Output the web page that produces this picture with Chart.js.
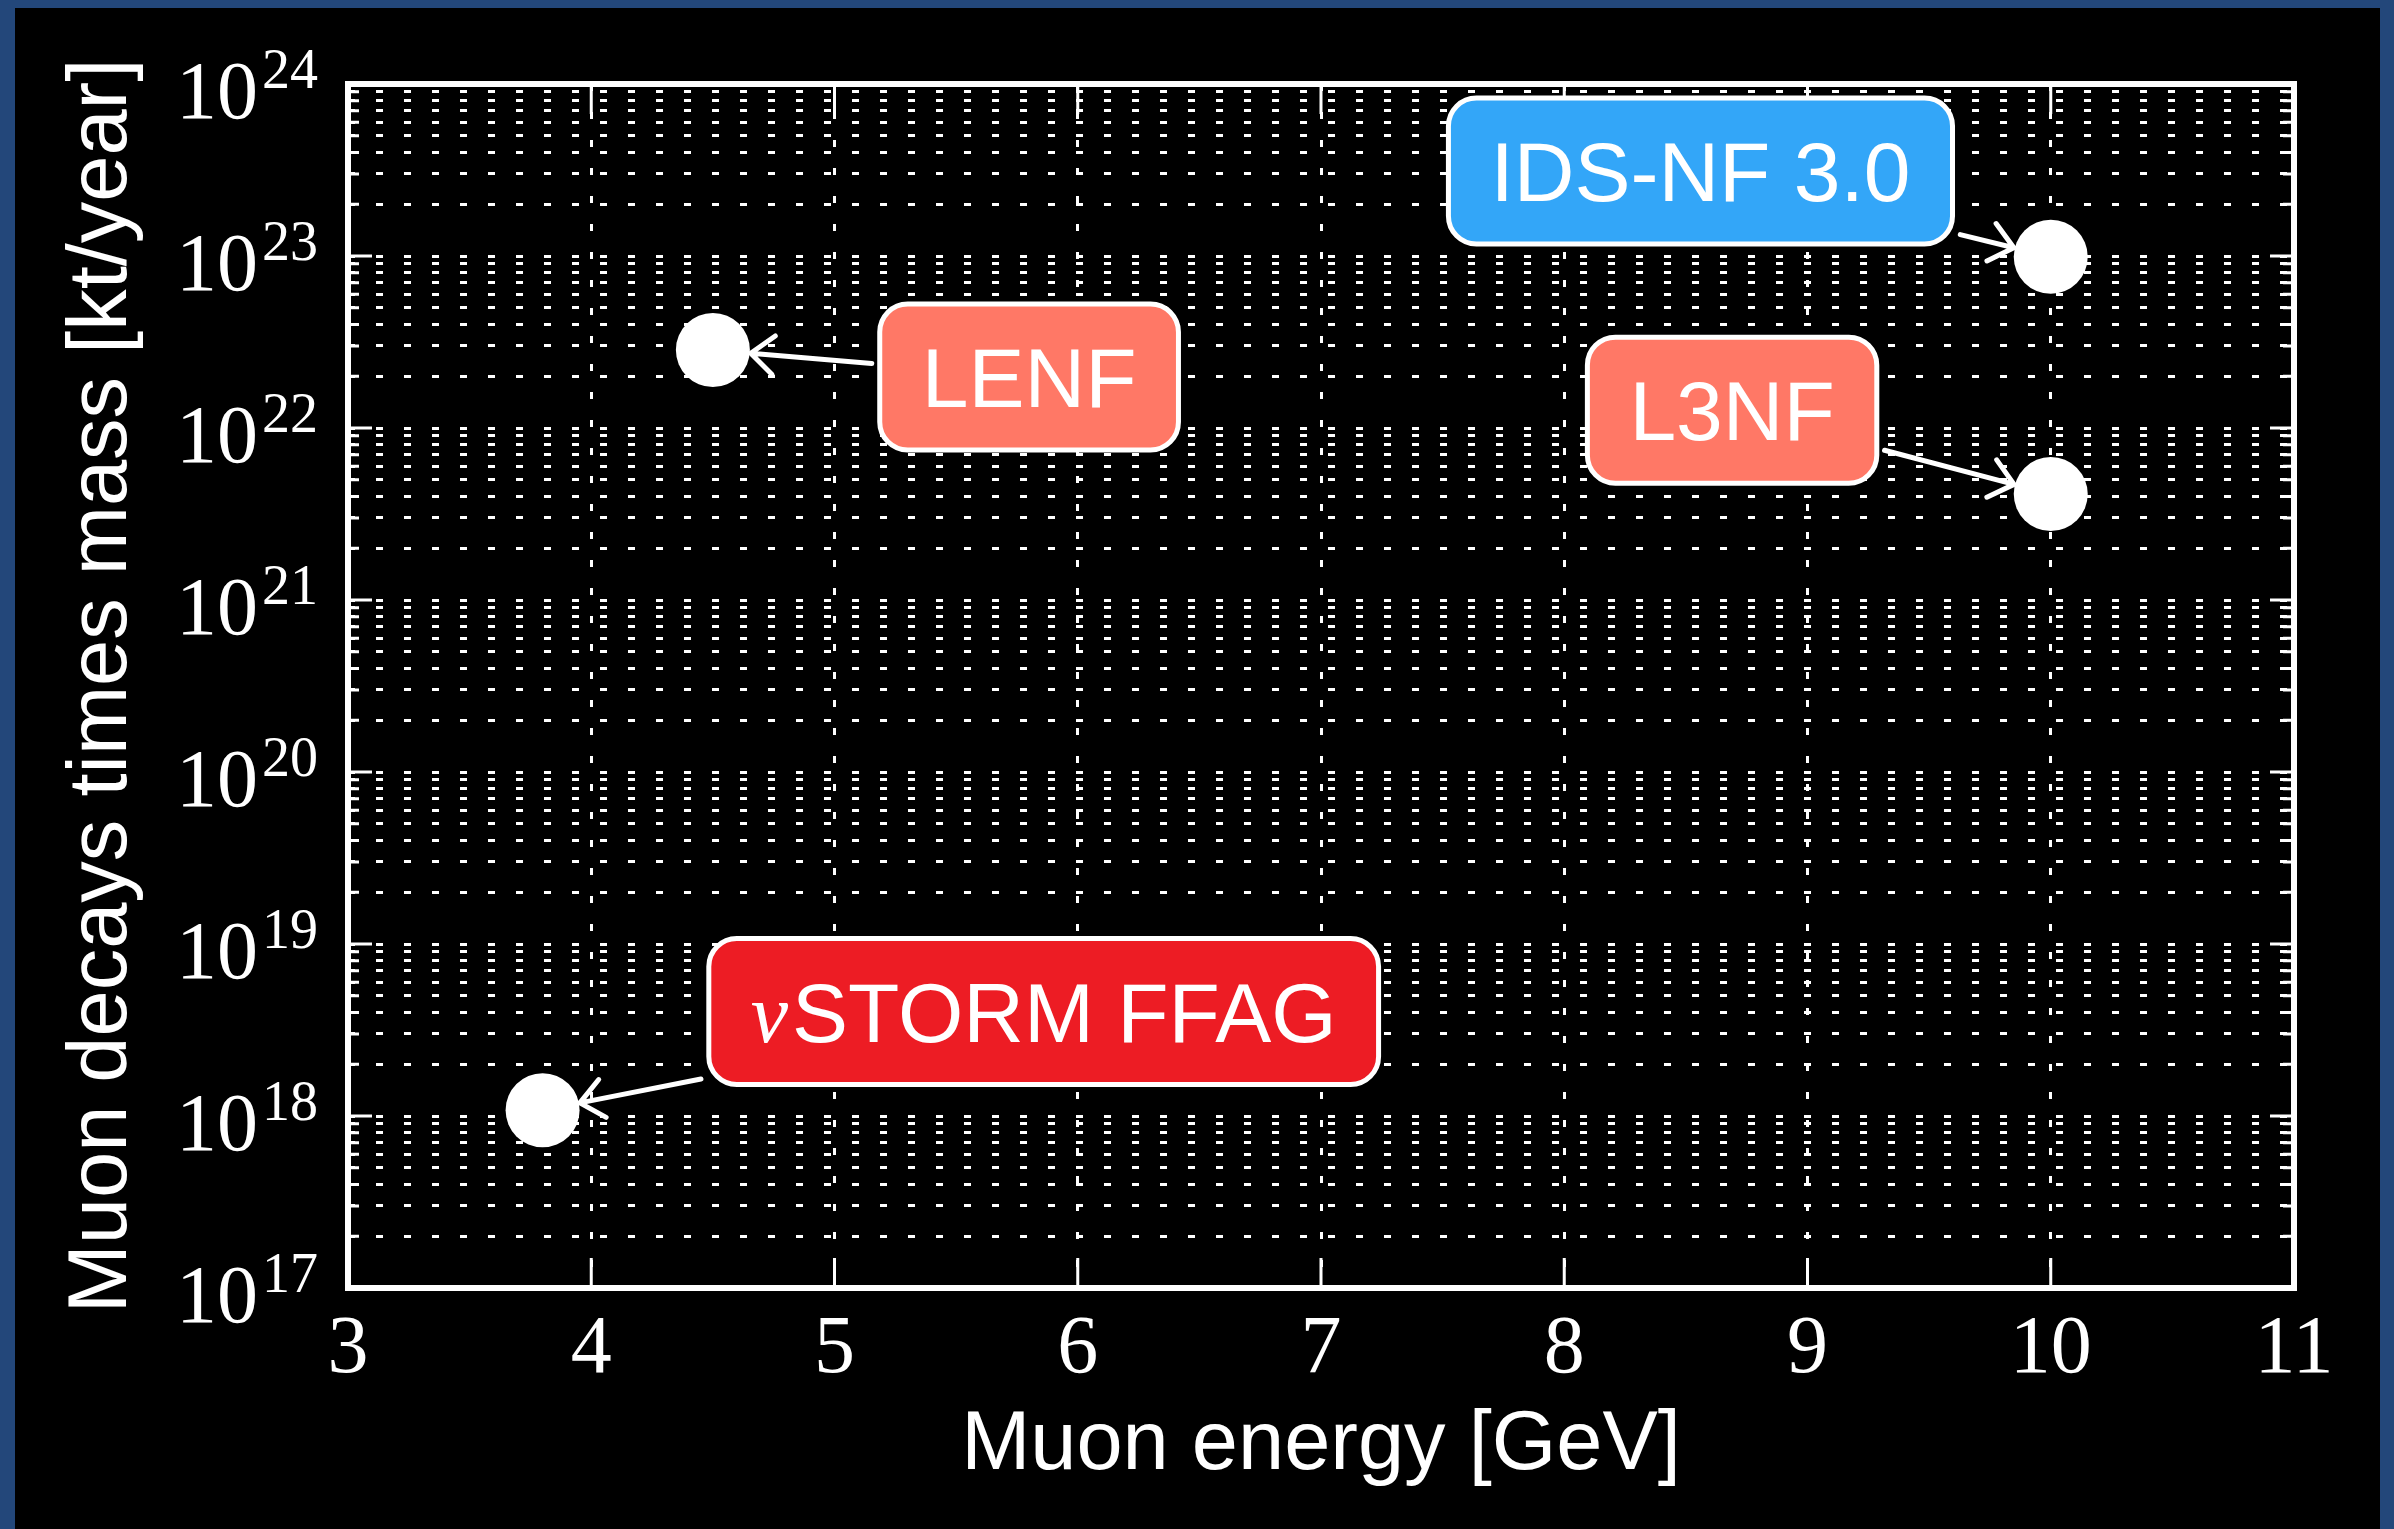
<!DOCTYPE html>
<html>
<head>
<meta charset="utf-8">
<title>Muon decays times mass vs muon energy</title>
<script src="https://cdn.jsdelivr.net/npm/chart.js@4.4.1/dist/chart.umd.min.js"></script>
<style>
  html, body { margin: 0; padding: 0; background: #23477a; overflow: hidden; }
  #frame { position: absolute; left: 15px; top: 8px; width: 2365px; height: 1521px; background: #000; }
</style>
</head>
<body>
<div id="frame"><canvas id="myChart"></canvas></div>
<script>
// data
const facilities = ["\u03bdSTORM FFAG", "LENF", "L3NF", "IDS-NF 3.0"];
const muonEnergy = [3.8, 4.5, 10, 10];                      // GeV
const decaysTimesMass = [1.08e18, 2.84e22, 4.13e21, 0.99e23]; // kt/year

// axis ticks
const xTicks = [3, 4, 5, 6, 7, 8, 9, 10, 11];
const yExponents = [17, 18, 19, 20, 21, 22, 23, 24];

// where each label box sits (data coords) and its colour
const labelEnergy = [5.86, 5.80, 8.69, 8.56];
const labelDecays = [4.05e18, 1.98e22, 1.27e22, 3.12e23];
const boxColors = ["#ed1c24", "#ff7866", "#ff7866", "#33a6f8"];

const SANS = "'Liberation Sans', Arial, sans-serif";
const SERIF = "'Liberation Serif', 'Times New Roman', serif";

Chart.defaults.font.family = SANS;
Chart.defaults.color = "#fff";

var points = [];
for (var i = 0; i < facilities.length; i++) {
  points.push({ x: muonEnergy[i], y: decaysTimesMass[i] });
}

function drawArrow(ctx, x1, y1, x2, y2) {
  var ang = Math.atan2(y2 - y1, x2 - x1);
  var head = 30, spread = 40 * Math.PI / 180;
  ctx.beginPath();
  ctx.moveTo(x1, y1);
  ctx.lineTo(x2, y2);
  ctx.moveTo(x2 - head * Math.cos(ang - spread), y2 - head * Math.sin(ang - spread));
  ctx.lineTo(x2, y2);
  ctx.lineTo(x2 - head * Math.cos(ang + spread), y2 - head * Math.sin(ang + spread));
  ctx.stroke();
}

// frame, inward ticks, tick labels, titles and the label boxes
const decorations = {
  id: "decorations",
  afterDraw(chart) {
    const ctx = chart.ctx;
    const area = chart.chartArea;
    const xs = chart.scales.x;
    const ys = chart.scales.y;
    ctx.save();
    ctx.strokeStyle = "#fff";
    ctx.fillStyle = "#fff";

    // ticks
    ctx.lineWidth = 3;
    ys.ticks.forEach(function (t) {
      var py = ys.getPixelForValue(t.value);
      var len = t.major ? 24 : 11;
      ctx.beginPath();
      ctx.moveTo(area.left, py); ctx.lineTo(area.left + len, py);
      ctx.moveTo(area.right, py); ctx.lineTo(area.right - len, py);
      ctx.stroke();
    });
    xs.ticks.forEach(function (t) {
      var px = xs.getPixelForValue(t.value);
      ctx.beginPath();
      ctx.moveTo(px, area.bottom); ctx.lineTo(px, area.bottom - 30);
      ctx.moveTo(px, area.top); ctx.lineTo(px, area.top + 30);
      ctx.stroke();
    });

    // box round the plot
    ctx.lineWidth = 6;
    ctx.strokeRect(area.left, area.top, area.right - area.left, area.bottom - area.top);

    // x tick labels
    ctx.font = "82px " + SERIF;
    ctx.textAlign = "center";
    ctx.textBaseline = "alphabetic";
    xs.ticks.forEach(function (t) {
      ctx.fillText(String(t.value), xs.getPixelForValue(t.value), area.bottom + 84);
    });

    // y tick labels, 10 with a raised exponent
    ctx.textAlign = "right";
    ys.ticks.forEach(function (t) {
      if (!t.major) return;
      var py = ys.getPixelForValue(t.value);
      var e = String(Math.round(Math.log10(t.value)));
      var right = area.left - 30;
      ctx.font = "56px " + SERIF;
      var ew = ctx.measureText(e).width;
      ctx.fillText(e, right, py + 4);
      ctx.font = "82px " + SERIF;
      ctx.fillText("10", right - ew - 4, py + 34);
    });

    // axis titles
    ctx.font = "83px " + SANS;
    ctx.textAlign = "center";
    ctx.fillText("Muon energy [GeV]", (area.left + area.right) / 2, 1461);
    ctx.save();
    ctx.translate(111, (area.top + area.bottom) / 2);
    ctx.rotate(-Math.PI / 2);
    ctx.fillText("Muon decays times mass [kt/year]", 0, 0);
    ctx.restore();

    // label boxes with arrows
    for (var i = 0; i < facilities.length; i++) {
      var name = facilities[i];
      var cx = xs.getPixelForValue(labelEnergy[i]);
      var cy = ys.getPixelForValue(labelDecays[i]);
      var px = xs.getPixelForValue(muonEnergy[i]);
      var py = ys.getPixelForValue(decaysTimesMass[i]);

      var greek = name.charAt(0) === "\u03bd" ? "\u03bd" : "";
      var rest = greek ? name.slice(1) : name;
      ctx.font = "italic 84px " + SERIF;
      var gw = greek ? ctx.measureText(greek).width + 4 : 0;
      ctx.font = "84px " + SANS;
      var rw = ctx.measureText(rest).width;
      var tw = gw + rw;
      var w = tw + 84, h = 146;

      // arrow from the box edge to the marker
      var dx = px - cx, dy = py - cy;
      var len = Math.sqrt(dx * dx + dy * dy);
      var ux = dx / len, uy = dy / len;
      var tBox = Math.min((w / 2) / Math.abs(dx || 1e-9), (h / 2) / Math.abs(dy || 1e-9));
      var sx = cx + dx * tBox + ux * 8, sy = cy + dy * tBox + uy * 8;
      var ex = px - ux * 38, ey = py - uy * 38;
      ctx.lineWidth = 5;
      ctx.lineCap = "round";
      ctx.lineJoin = "round";
      drawArrow(ctx, sx, sy, ex, ey);

      ctx.beginPath();
      ctx.roundRect(cx - w / 2, cy - h / 2, w, h, 28);
      ctx.fillStyle = boxColors[i];
      ctx.fill();
      ctx.lineWidth = 5;
      ctx.strokeStyle = "#fff";
      ctx.stroke();

      ctx.fillStyle = "#fff";
      ctx.textAlign = "left";
      var x0 = cx - tw / 2;
      var base = cy + 30;
      if (greek) {
        ctx.font = "italic 84px " + SERIF;
        ctx.fillText(greek, x0, base);
      }
      ctx.font = "84px " + SANS;
      ctx.fillText(rest, x0 + gw, base);
    }
    ctx.restore();
  }
};

new Chart("myChart", {
  type: "scatter",
  data: {
    datasets: [{
      label: "Facilities",
      data: points,
      pointRadius: 37,
      pointHoverRadius: 37,
      pointBackgroundColor: "#fff",
      pointBorderWidth: 0
    }]
  },
  options: {
    responsive: true,
    maintainAspectRatio: false,
    animation: false,
    events: [],
    layout: { padding: { top: 76, right: 86, left: 0, bottom: 0 } },
    plugins: {
      legend: { display: false },
      tooltip: { enabled: false }
    },
    scales: {
      x: {
        type: "linear",
        min: 3,
        max: 11,
        afterBuildTicks: function (scale) {
          scale.ticks = xTicks.map(function (v) { return { value: v }; });
        },
        afterFit: function (scale) { scale.height = 241; },
        ticks: { display: false },
        grid: { color: "#fff", lineWidth: 3, drawTicks: false },
        border: { display: false, dash: [7, 21] }
      },
      y: {
        type: "logarithmic",
        min: 1e17,
        max: 1e24,
        afterBuildTicks: function (scale) {
          var t = [];
          yExponents.forEach(function (e, k) {
            t.push({ value: Math.pow(10, e), major: true });
            if (k < yExponents.length - 1) {
              for (var m = 2; m <= 9; m++) t.push({ value: m * Math.pow(10, e), major: false });
            }
          });
          scale.ticks = t;
        },
        afterFit: function (scale) { scale.width = 333; },
        ticks: { display: false },
        grid: { color: "#fff", lineWidth: 3, drawTicks: false },
        border: { display: false, dash: [7, 21] }
      }
    }
  },
  plugins: [decorations]
});
</script>
</body>
</html>
